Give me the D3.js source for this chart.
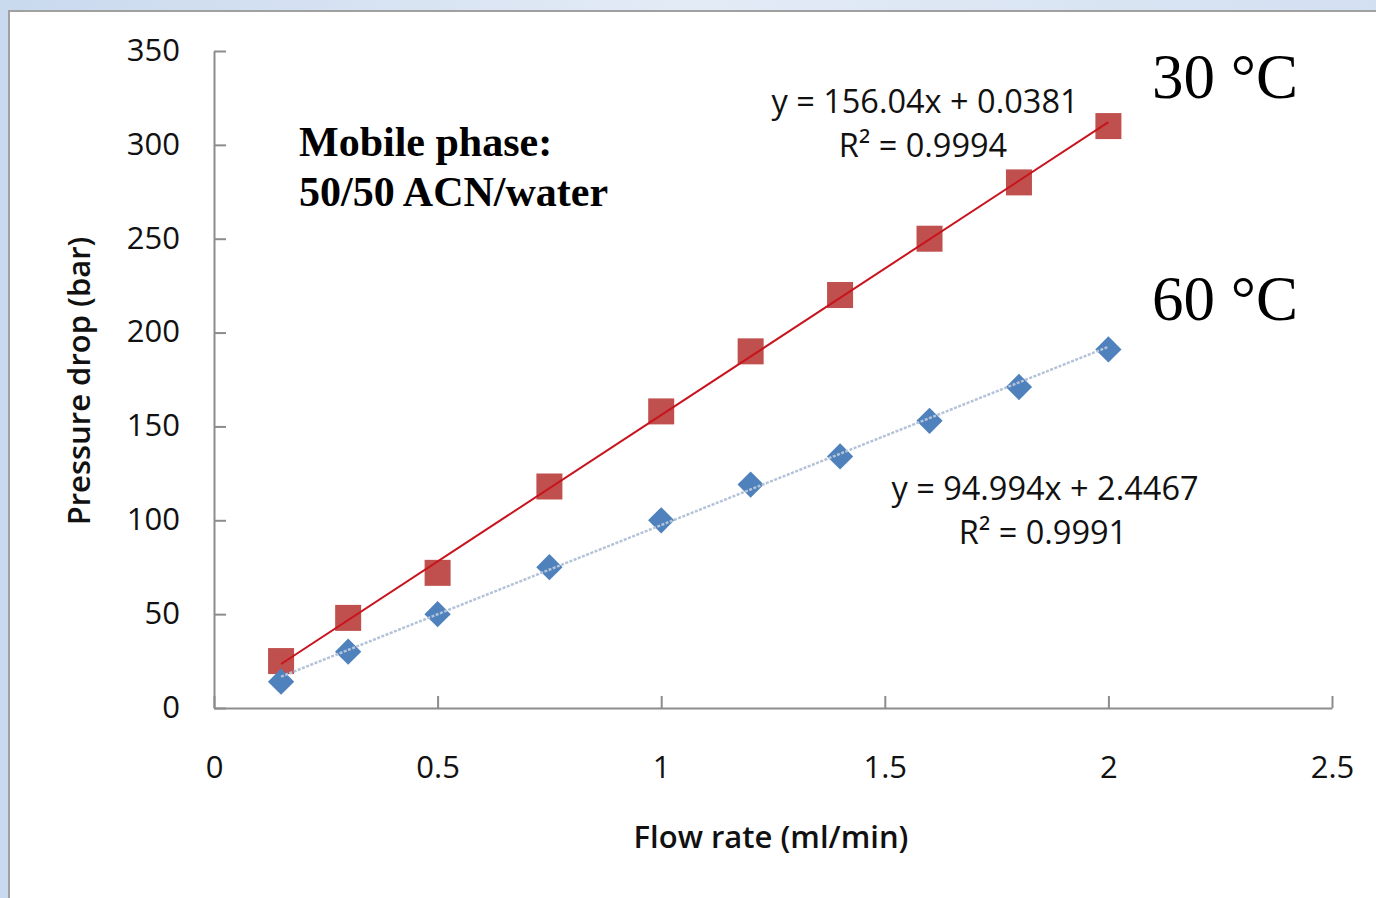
<!DOCTYPE html>
<html>
<head>
<meta charset="utf-8">
<script src="https://cdn.jsdelivr.net/npm/d3@7"></script>
<style>
  html, body { margin: 0; padding: 0; background: #dde7f4; }
  svg { display: block; }
</style>
</head>
<body>
<svg id="chart" width="1376" height="898"></svg>
<script>
"use strict";

// Flow rate (ml/min)
const flowRates = [0.15, 0.3, 0.5, 0.75, 1, 1.2, 1.4, 1.6, 1.8, 2];
// Pressure drop (bar)
const pressure30 = [25, 48, 72, 118, 158, 190, 220, 250, 280, 310];
const pressure60 = [14, 30, 50, 75, 100, 119, 134, 153, 171, 191];

// Linear trend lines, as printed on the chart
const fit30 = { slope: 156.04, intercept: 0.0381, label: "y = 156.04x + 0.0381", r2: "R² = 0.9994" };
const fit60 = { slope: 94.994, intercept: 2.4467, label: "y = 94.994x + 2.4467", r2: "R² = 0.9991" };

const xTicks = [0, 0.5, 1, 1.5, 2, 2.5];
const yTicks = [0, 50, 100, 150, 200, 250, 300, 350];

const svg = d3.select("#chart");

/* ── Backdrop ─────────────────────────────────────────── */
const defs = svg.append("defs");
const grad = defs.append("linearGradient").attr("id", "bg").attr("x1", 0).attr("y1", 0).attr("x2", 1).attr("y2", 0);
grad.append("stop").attr("offset", 0).attr("stop-color", "#c9d9ee");
grad.append("stop").attr("offset", 0.5).attr("stop-color", "#e3ebf6");
grad.append("stop").attr("offset", 1).attr("stop-color", "#d3e0f1");
svg.append("rect").attr("width", 1376).attr("height", 898).attr("fill", "url(#bg)");
svg.append("rect")
  .attr("x", 9).attr("y", 11).attr("width", 1380).attr("height", 900)
  .attr("fill", "#ffffff").attr("stroke", "#a0a0a0").attr("stroke-width", 2);

/* ── Scales ───────────────────────────────────────────── */
const x = d3.scaleLinear().domain([0, 2.5]).range([214, 1332]);
const y = d3.scaleLinear().domain([0, 350]).range([708, 51]);

const axisColor = "#8c8c8c";
const tickFont = "'Open Sans', 'Liberation Sans', sans-serif";

const xAxis = svg.append("g")
  .attr("transform", "translate(0," + y(0) + ")")
  .call(d3.axisBottom(x).tickValues(xTicks).tickSizeInner(-12).tickSizeOuter(0)
    .tickFormat(d3.format("")));
xAxis.select(".domain").attr("stroke", axisColor).attr("stroke-width", 2);
xAxis.selectAll(".tick line").attr("stroke", axisColor).attr("stroke-width", 2);
xAxis.selectAll(".tick text")
  .attr("y", 0).attr("dy", 70)
  .attr("font-family", tickFont).attr("font-size", 31).attr("fill", "#111");

const yAxis = svg.append("g")
  .attr("transform", "translate(" + x(0) + ",0)")
  .call(d3.axisLeft(y).tickValues(yTicks).tickSizeInner(-12).tickSizeOuter(0));
yAxis.select(".domain").attr("stroke", axisColor).attr("stroke-width", 2);
yAxis.selectAll(".tick text")
  .attr("x", -34).attr("dy", "0.3em")
  .attr("font-family", tickFont).attr("font-size", 31).attr("fill", "#111");
yAxis.selectAll(".tick line").attr("stroke", axisColor).attr("stroke-width", 2);

/* ── Axis titles ──────────────────────────────────────── */
svg.append("text")
  .attr("x", 771).attr("y", 848).attr("text-anchor", "middle")
  .attr("font-family", tickFont).attr("font-size", 31).attr("font-weight", 600).attr("fill", "#111")
  .text("Flow rate (ml/min)");
svg.append("text")
  .attr("transform", "translate(90,381) rotate(-90)").attr("text-anchor", "middle")
  .attr("font-family", tickFont).attr("font-size", 31).attr("font-weight", 600).attr("fill", "#111")
  .text("Pressure drop (bar)");

/* ── Markers ──────────────────────────────────────────── */
const rows30 = flowRates.map(function (f, i) { return { x: f, y: pressure30[i] }; });
const rows60 = flowRates.map(function (f, i) { return { x: f, y: pressure60[i] }; });

svg.append("g").selectAll("rect").data(rows30).join("rect")
  .attr("x", function (d) { return x(d.x) - 13; })
  .attr("y", function (d) { return y(d.y) - 13; })
  .attr("width", 26).attr("height", 26)
  .attr("fill", "#c0504d");

const diamond = d3.symbol().type(d3.symbolDiamond2).size(440);
svg.append("g").selectAll("path").data(rows60).join("path")
  .attr("transform", function (d) { return "translate(" + x(d.x) + "," + y(d.y) + ")"; })
  .attr("d", diamond)
  .attr("fill", "#4f81bd");

/* ── Trend lines ──────────────────────────────────────── */
const xMin = d3.min(flowRates), xMax = d3.max(flowRates);
function trend(fit) {
  return [xMin, xMax].map(function (v) { return [x(v), y(fit.slope * v + fit.intercept)]; });
}
const line = d3.line();

svg.append("path").attr("d", line(trend(fit60)))
  .attr("fill", "none").attr("stroke", "#b4c3d8").attr("stroke-width", 2.5)
  .attr("stroke-dasharray", "3,1.5");
svg.append("path").attr("d", line(trend(fit30)))
  .attr("fill", "none").attr("stroke", "#c8141e").attr("stroke-width", 2);

/* ── Equations ────────────────────────────────────────── */
const eqFont = "'Open Sans', 'Liberation Sans', sans-serif";
function equation(fit, cx, by) {
  svg.append("text").attr("x", cx).attr("y", by).attr("text-anchor", "middle")
    .attr("font-family", eqFont).attr("font-size", 32.5).attr("fill", "#111").text(fit.label);
  svg.append("text").attr("x", cx - 2).attr("y", by + 44).attr("text-anchor", "middle")
    .attr("font-family", eqFont).attr("font-size", 32.5).attr("fill", "#111").text(fit.r2);
}
equation(fit30, 925, 113);
equation(fit60, 1045, 500);

/* ── Annotations ──────────────────────────────────────── */
const serif = "'Liberation Serif', 'Times New Roman', serif";
svg.append("text").attr("x", 299).attr("y", 156)
  .attr("font-family", serif).attr("font-size", 42).attr("font-weight", "bold").attr("fill", "#000")
  .text("Mobile phase:");
svg.append("text").attr("x", 299).attr("y", 206)
  .attr("font-family", serif).attr("font-size", 42).attr("font-weight", "bold").attr("fill", "#000")
  .text("50/50 ACN/water");
svg.append("text").attr("x", 1152).attr("y", 98)
  .attr("font-family", serif).attr("font-size", 63).attr("fill", "#000")
  .text("30 °C");
svg.append("text").attr("x", 1152).attr("y", 320)
  .attr("font-family", serif).attr("font-size", 63).attr("fill", "#000")
  .text("60 °C");
</script>
</body>
</html>
